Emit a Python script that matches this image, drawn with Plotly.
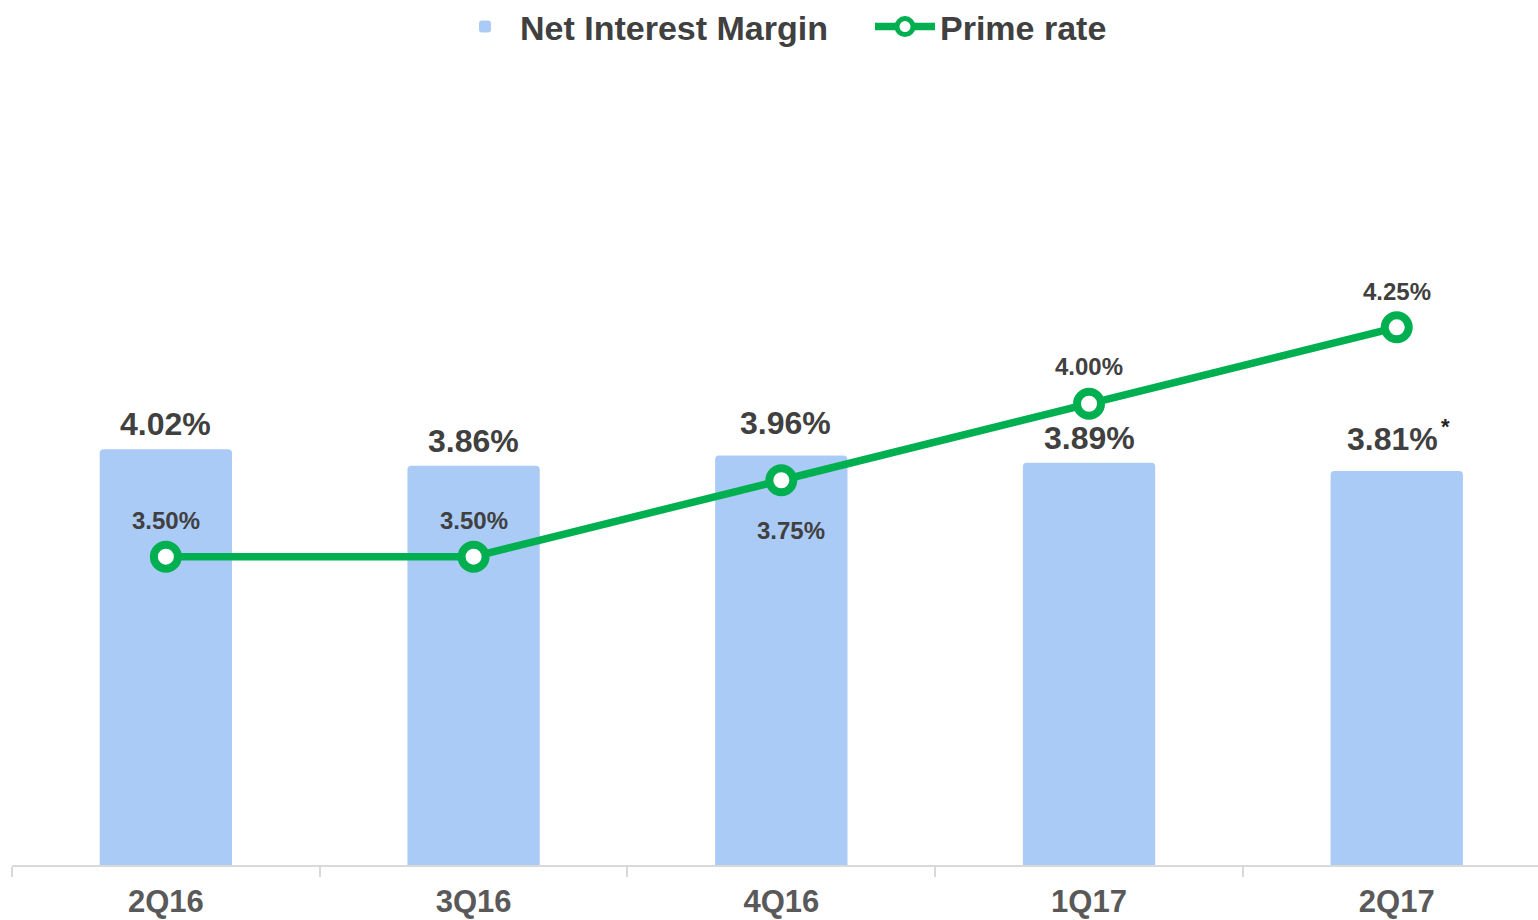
import plotly.graph_objects as go

# ---- data ----
quarters = ["2Q16", "3Q16", "4Q16", "1Q17", "2Q17"]
nim = [4.02, 3.86, 3.96, 3.89, 3.81]
prime = [3.50, 3.50, 3.75, 4.00, 4.25]
nim_labels = ["4.02%", "3.86%", "3.96%", "3.89%", "3.81%"]
prime_labels = ["3.50%", "3.50%", "3.75%", "4.00%", "4.25%"]
nim_notes = ["", "", "", "", "*"]

# ---- label placement (pixels) ----
nim_label_dy = [25, 25, 33, 25, 32]
nim_label_dx = [0, 0, 4, 0, -4]
prime_label_dy = [36, 36, -50, 37, 36]
prime_label_dx = [0, 0, 10, 0, 0]

BAR = "#ABCBF7"
GREEN = "#00B050"
TEXT = "#404040"
TICK = "#595959"
FONT = "Liberation Sans"

fig = go.Figure()
fig.add_trace(go.Bar(
    x=quarters, y=nim, name="Net Interest Margin",
    marker=dict(color=BAR, line=dict(width=0)), width=0.43, yaxis="y",
    hoverinfo="skip",
))
fig.add_trace(go.Scatter(
    x=quarters, y=prime, name="Prime rate", mode="lines+markers",
    line=dict(color=GREEN, width=7.5),
    marker=dict(size=24, color="white", line=dict(color=GREEN, width=8)),
    yaxis="y2", hoverinfo="skip",
))

annotations = []
for q, v, t, dx, dy, note in zip(quarters, nim, nim_labels, nim_label_dx, nim_label_dy, nim_notes):
    annotations.append(dict(
        x=q, y=v, xref="x", yref="y", text=t, showarrow=False,
        xanchor="center", yanchor="middle", xshift=dx, yshift=dy,
        font=dict(family=FONT, size=32, color=TEXT, weight="bold"),
    ))
    if note:
        annotations.append(dict(
            x=q, y=v, xref="x", yref="y", text=note, showarrow=False,
            xanchor="center", yanchor="middle", xshift=49, yshift=45,
            font=dict(family=FONT, size=22, color="#222222", weight="bold"),
        ))
for q, v, t, dx, dy in zip(quarters, prime, prime_labels, prime_label_dx, prime_label_dy):
    annotations.append(dict(
        x=q, y=v, xref="x", yref="y2", text=t, showarrow=False,
        xanchor="center", yanchor="middle", xshift=dx, yshift=dy,
        font=dict(family=FONT, size=24, color=TEXT, weight="bold"),
    ))

fig.update_layout(
    width=1538, height=920,
    margin=dict(l=12, r=0, t=60, b=55),
    paper_bgcolor="white", plot_bgcolor="white",
    barcornerradius=4,
    showlegend=True,
    legend=dict(
        orientation="h", xref="container", yref="container",
        x=450 / 1538, xanchor="left", y=1 - 27 / 920, yanchor="middle",
        font=dict(family=FONT, size=34, color=TEXT, weight="bold"),
        itemwidth=60, entrywidth=345, bgcolor="rgba(0,0,0,0)",
    ),
    xaxis=dict(
        range=[-0.5, 4.459], showline=True, linecolor="#D9D9D9", linewidth=2,
        ticks="outside", tickson="boundaries", ticklen=10, tickcolor="#D9D9D9", tickwidth=2,
        ticklabelstandoff=8, automargin=False,
        tickfont=dict(family=FONT, size=31, color=TICK, weight="bold"),
        showgrid=False, zeroline=False,
    ),
    yaxis=dict(range=[0, 7.785], visible=False, showgrid=False, zeroline=False),
    yaxis2=dict(range=[2.492, 5.124], overlaying="y", visible=False, showgrid=False, zeroline=False),
    annotations=annotations,
)

fig.write_html(
    "out.html",
    config={"displayModeBar": False},
    post_script="document.body.style.margin='0';document.body.style.overflow='hidden';",
)
